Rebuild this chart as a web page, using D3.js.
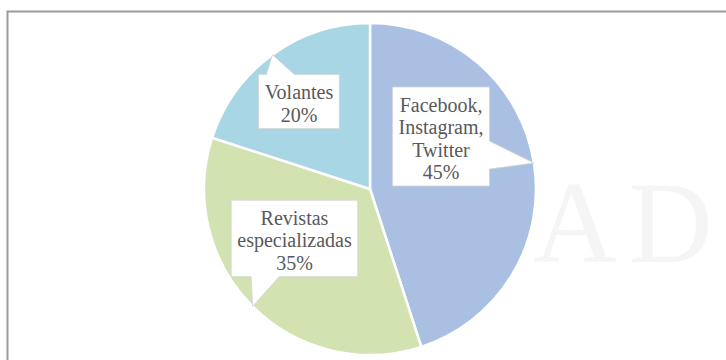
<!DOCTYPE html>
<html>
<head>
<meta charset="utf-8">
<script src="https://cdn.jsdelivr.net/npm/d3@7"></script>
<style>
    body { margin: 0; background: #fff; }
</style>
</head>
<body>
<script>
// data
var categories = ["Facebook, Instagram, Twitter", "Revistas especializadas", "Volantes"];
var labelLines = [["Facebook,", "Instagram,", "Twitter"], ["Revistas", "especializadas"], ["Volantes"]];
var values = [45, 35, 20];
var colors = ["#a9c0e3", "#d2e2b1", "#a9d6e4"];

// label box centres, relative to pie centre, in radius units (layout only)
var labelPos = [[0.428, -0.316], [-0.455, 0.298], [-0.428, -0.527]];

var width = 726, height = 360;
var cx = 370, cy = 189, radius = 166;
var lineH = 22.5;

var svg = d3.select("body")
    .append("svg")
    .attr("width", width)
    .attr("height", height);

// chart frame (runs off the right and bottom edge)
svg.append("rect")
    .attr("x", 7.5)
    .attr("y", 11.5)
    .attr("width", 900)
    .attr("height", 600)
    .attr("fill", "none")
    .attr("stroke", "#9c9c9c")
    .attr("stroke-width", 2);

// faint watermark behind the pie
svg.append("text")
    .text("AD")
    .attr("x", 533)
    .attr("y", 262)
    .attr("font-size", "116px")
    .attr("letter-spacing", "12px")
    .style("font-family", "'Liberation Serif', 'Times New Roman', serif")
    .attr("fill", "#f5f5f5");

var pie = d3.pie().sort(null).value(d => d)(values);

var arc = d3.arc()
    .innerRadius(0)
    .outerRadius(radius);

var g = svg.append("g")
    .attr("transform", "translate(" + cx + "," + cy + ")");

g.selectAll("path.slice")
    .data(pie)
    .enter()
    .append("path")
        .attr("class", "slice")
        .attr("d", arc)
        .attr("fill", (d, i) => colors[i])
        .attr("stroke", "#fff")
        .attr("stroke-width", 2.5)
        .attr("stroke-linejoin", "round");

// callout path: box with a wedge reaching the tip
function calloutPath(b, tip) {
    var bw = 28;
    var mx = (b.x0 + b.x1) / 2, my = (b.y0 + b.y1) / 2;
    var c;
    if (tip[0] > b.x1) {
        c = Math.max(b.y0 + bw / 2, Math.min(b.y1 - bw / 2, tip[1] + 0.3 * (my - tip[1])));
        return "M" + b.x0 + "," + b.y0 + "L" + b.x1 + "," + b.y0 + "L" + b.x1 + "," + (c - bw / 2)
            + "L" + tip[0] + "," + tip[1] + "L" + b.x1 + "," + (c + bw / 2)
            + "L" + b.x1 + "," + b.y1 + "L" + b.x0 + "," + b.y1 + "Z";
    } else if (tip[1] > b.y1) {
        c = Math.max(b.x0 + bw / 2, Math.min(b.x1 - bw / 2, tip[0] + 0.3 * (mx - tip[0])));
        return "M" + b.x0 + "," + b.y0 + "L" + b.x1 + "," + b.y0 + "L" + b.x1 + "," + b.y1
            + "L" + (c + bw / 2) + "," + b.y1 + "L" + tip[0] + "," + tip[1]
            + "L" + (c - bw / 2) + "," + b.y1 + "L" + b.x0 + "," + b.y1 + "Z";
    } else if (tip[1] < b.y0) {
        c = Math.max(b.x0 + bw / 2, Math.min(b.x1 - bw / 2, tip[0] + 0.3 * (mx - tip[0])));
        return "M" + b.x0 + "," + b.y0 + "L" + (c - bw / 2) + "," + b.y0 + "L" + tip[0] + "," + tip[1]
            + "L" + (c + bw / 2) + "," + b.y0 + "L" + b.x1 + "," + b.y0
            + "L" + b.x1 + "," + b.y1 + "L" + b.x0 + "," + b.y1 + "Z";
    } else {
        c = Math.max(b.y0 + bw / 2, Math.min(b.y1 - bw / 2, tip[1] + 0.3 * (my - tip[1])));
        return "M" + b.x0 + "," + b.y0 + "L" + b.x1 + "," + b.y0 + "L" + b.x1 + "," + b.y1
            + "L" + b.x0 + "," + b.y1 + "L" + b.x0 + "," + (c + bw / 2)
            + "L" + tip[0] + "," + tip[1] + "L" + b.x0 + "," + (c - bw / 2) + "Z";
    }
}

var total = d3.sum(values);

pie.forEach(function(d, i) {
    var lines = labelLines[i].concat([Math.round(values[i] / total * 100) + "%"]);
    var lx = labelPos[i][0] * radius, ly = labelPos[i][1] * radius;

    var label = g.append("g").attr("class", "callout");
    var box = label.append("path");

    var txt = label.append("text")
        .attr("text-anchor", "middle")
        .attr("font-size", "20px")
        .style("font-family", "'Liberation Serif', 'Times New Roman', serif")
        .attr("fill", "#595959");

    var h = lines.length * lineH + 9;
    lines.forEach(function(t, j) {
        txt.append("tspan")
            .attr("x", lx)
            .attr("y", ly - h / 2 + 24.5 + j * lineH)
            .text(t);
    });

    var w = txt.node().getBBox().width + 12;
    var b = {x0: lx - w / 2, x1: lx + w / 2, y0: ly - h / 2, y1: ly + h / 2};

    // tip sits on the outer edge at the slice's middle angle
    var mid = (d.startAngle + d.endAngle) / 2;
    var tip = [radius * Math.sin(mid), -radius * Math.cos(mid)];

    box.attr("d", calloutPath(b, tip))
        .attr("fill", "#fff")
        .attr("stroke", "#d4d4d4")
        .attr("stroke-width", 0.8)
        .attr("stroke-linejoin", "miter");
});
</script>
</body>
</html>
